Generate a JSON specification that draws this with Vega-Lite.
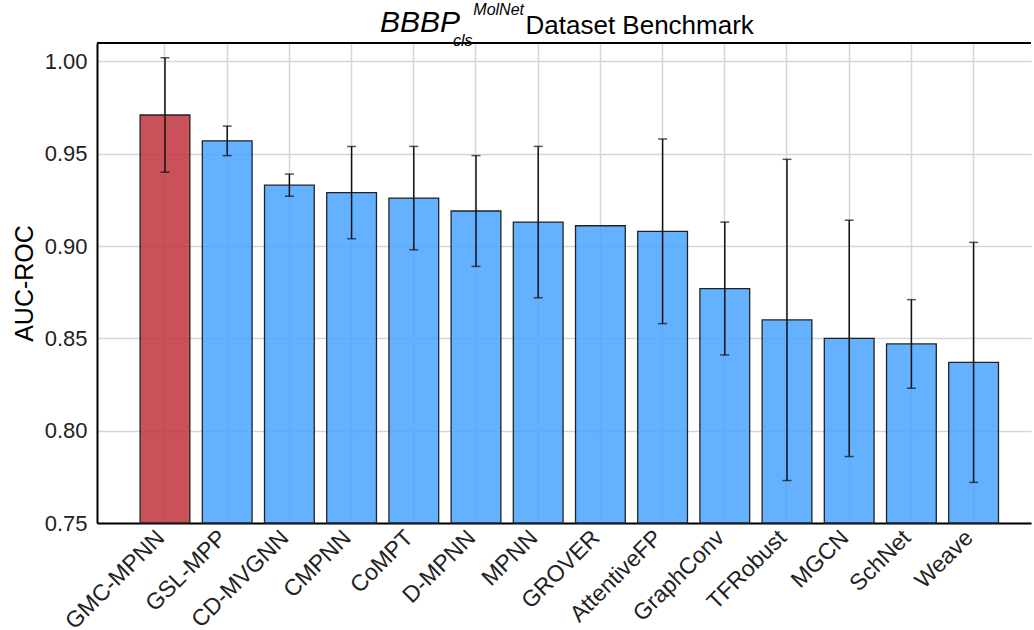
{
  "$schema": "https://vega.github.io/schema/vega-lite/v6.json",
  "autosize": "none",
  "width": 934,
  "height": 480,
  "padding": {"left": 97, "top": 43, "right": 3, "bottom": 107},
  "background": "white",
  "title": {
    "text": "BBBP",
    "subtitle": ["\u200b\u2003\u2003\u2003\u2003\u2003\u00a0\u00a0\u00a0MolNet", "\u200b\u2003\u2003\u2003\u2003\u00a0\u00a0cls"],
    "anchor": "start",
    "frame": "group",
    "dx": 283,
    "dy": 43,
    "offset": 0,
    "font": "Liberation Sans",
    "fontSize": 30,
    "fontStyle": "italic",
    "fontWeight": "normal",
    "color": "black",
    "subtitleFont": "Liberation Sans",
    "subtitleFontSize": 16,
    "subtitleFontStyle": "italic",
    "subtitleColor": "black",
    "subtitleLineHeight": 31,
    "subtitlePadding": -36
  },
  "data": {
    "values": [
      {"model": "GMC-MPNN", "auc": 0.971, "err": 0.031},
      {"model": "GSL-MPP", "auc": 0.957, "err": 0.008},
      {"model": "CD-MVGNN", "auc": 0.933, "err": 0.006},
      {"model": "CMPNN", "auc": 0.929, "err": 0.025},
      {"model": "CoMPT", "auc": 0.926, "err": 0.028},
      {"model": "D-MPNN", "auc": 0.919, "err": 0.030},
      {"model": "MPNN", "auc": 0.913, "err": 0.041},
      {"model": "GROVER", "auc": 0.911, "err": null},
      {"model": "AttentiveFP", "auc": 0.908, "err": 0.050},
      {"model": "GraphConv", "auc": 0.877, "err": 0.036},
      {"model": "TFRobust", "auc": 0.860, "err": 0.087},
      {"model": "MGCN", "auc": 0.850, "err": 0.064},
      {"model": "SchNet", "auc": 0.847, "err": 0.024},
      {"model": "Weave", "auc": 0.837, "err": 0.065}
    ]
  },
  "layer": [
    {
      "mark": {"type": "bar", "stroke": "#222222", "strokeWidth": 1.3, "fillOpacity": 0.85},
      "encoding": {
        "x": {
          "field": "model",
          "type": "nominal",
          "sort": null,
          "title": "Dataset Benchmark",
          "scale": {"paddingInner": 0.2, "paddingOuter": 0.608, "align": 0.57},
          "axis": {
            "titleX": 428,
            "titleY": -490,
            "titleAlign": "left",
            "titleBaseline": "alphabetic",
            "titleFont": "Liberation Sans",
            "titleFontSize": 26,
            "titleFontWeight": "normal",
            "titleColor": "black",
            "labelAngle": -45,
            "labelAlign": "right",
            "labelBaseline": "top",
            "labelFont": "Liberation Sans",
            "labelFontSize": 23,
            "labelColor": "#222222",
            "labelPadding": 3,
            "labelOffset": -12,
            "labelLimit": 300,
            "ticks": false,
            "tickSize": 0,
            "domainColor": "black",
            "domainWidth": 2,
            "grid": true,
            "gridColor": "#d6d6d6",
            "gridWidth": 1.5
          }
        },
        "y": {
          "field": "auc",
          "type": "quantitative",
          "title": "AUC-ROC",
          "scale": {"domain": [0.75, 1.01], "nice": false, "zero": false},
          "axis": {
            "titleX": -73,
            "titleY": 240,
            "titleAngle": -90,
            "titleAlign": "center",
            "titleBaseline": "middle",
            "titleFont": "Liberation Sans",
            "titleFontSize": 25,
            "titleFontWeight": "normal",
            "titleColor": "black",
            "values": [0.75, 0.8, 0.85, 0.9, 0.95, 1.0],
            "format": ".2f",
            "labelFont": "Liberation Sans",
            "labelFontSize": 22,
            "labelColor": "#222222",
            "labelPadding": 10,
            "ticks": false,
            "tickSize": 0,
            "domainColor": "black",
            "domainWidth": 2,
            "grid": true,
            "gridColor": "#d6d6d6",
            "gridWidth": 1.5
          }
        },
        "y2": {"datum": 0.75},
        "fill": {
          "condition": {"test": "datum.model === 'GMC-MPNN'", "value": "#be333d"},
          "value": "#49a4ff"
        }
      }
    },
    {
      "transform": [{"filter": "datum.err != null"}],
      "mark": {
        "type": "errorbar",
        "ticks": {"size": 9, "thickness": 1.5, "color": "#111111"},
        "rule": {"strokeWidth": 1.5, "color": "#111111"}
      },
      "encoding": {
        "x": {"field": "model", "type": "nominal", "sort": null, "title": "Dataset Benchmark"},
        "y": {"field": "auc", "type": "quantitative", "title": "AUC-ROC"},
        "yError": {"field": "err"}
      }
    },
    {
      "mark": {"type": "rule", "color": "black", "strokeWidth": 2},
      "encoding": {"y": {"datum": 1.01, "title": "AUC-ROC"}}
    }
  ],
  "config": {"view": {"stroke": null}}
}
